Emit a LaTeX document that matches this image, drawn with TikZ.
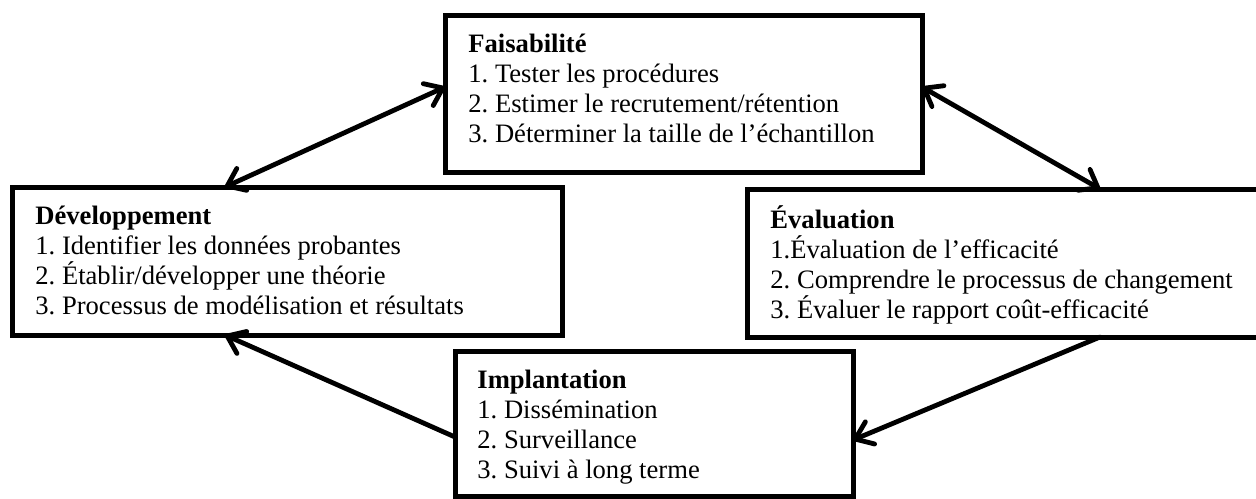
\documentclass[tikz,border=0pt]{standalone}
\usepackage{fontspec}
\setmainfont{Liberation Serif}
\usetikzlibrary{arrows.meta,fit}
\frenchspacing
\begin{document}
\begin{tikzpicture}[x=0.5pt,y=-0.5pt,
  box/.style={draw=black, line width=2.5pt, inner sep=0pt, outer sep=0pt},
  txt/.style={anchor=north west, inner sep=0pt, align=left, font=\fontsize{13.3}{15}\selectfont\frenchspacing},
  arr/.style={line width=2.4pt, line cap=round, -{Straight Barb[length=8pt,width=12pt,line cap=round,line join=round]}},
  darr/.style={line width=2.4pt, line cap=round, {Straight Barb[length=8pt,width=12pt,line cap=round,line join=round]}-{Straight Barb[length=8pt,width=12pt,line cap=round,line join=round]}}
]
\useasboundingbox (0,0) rectangle (1256,498);

% boxes
\node[box, fit={(445,15) (922,172)}] (faisa) {};
\node[box, fit={(12,187) (562,335)}] (dev) {};
\node[box, fit={(747,189) (1266,337)}] (eval) {};
\node[box, fit={(455,351) (853,496)}] (impl) {};

% texts
\node[txt] (faisaT) at (468,32) {\rule{0pt}{10pt}\textbf{Faisabilité}\\
1. Tester les procédures\\
2. Estimer le recrutement/rétention\\
3. Déterminer la taille de l’échantillon};

\node[txt] (devT) at (35,204) {\rule{0pt}{10pt}\textbf{Développement}\\
1. Identifier les données probantes\\
2. Établir/développer une théorie\\
3. Processus de modélisation et résultats};

\node[txt] (evalT) at (770,205) {\rule{0pt}{10pt}\textbf{Évaluation}\\
1.Évaluation de l’efficacité\\
2. Comprendre le processus de changement\\
3. Évaluer le rapport coût-efficacité};

\node[txt] (implT) at (477,368) {\rule{0pt}{10pt}\textbf{Implantation}\\
1. Dissémination\\
2. Surveillance\\
3. Suivi à long terme};

% connectors
\draw[darr] ([xshift=106.5pt]dev.north west) -- ([yshift=-36pt]faisa.north west);
\draw[darr] ([yshift=-36pt]faisa.north east) -- ([xshift=176.5pt]eval.north west);
\draw[arr] ([xshift=176.5pt]eval.south west) -- ([yshift=-44.5pt]impl.north east);
\draw[arr] ([yshift=-43pt]impl.north west) -- ([xshift=106.5pt]dev.south west);
\end{tikzpicture}
\end{document}
